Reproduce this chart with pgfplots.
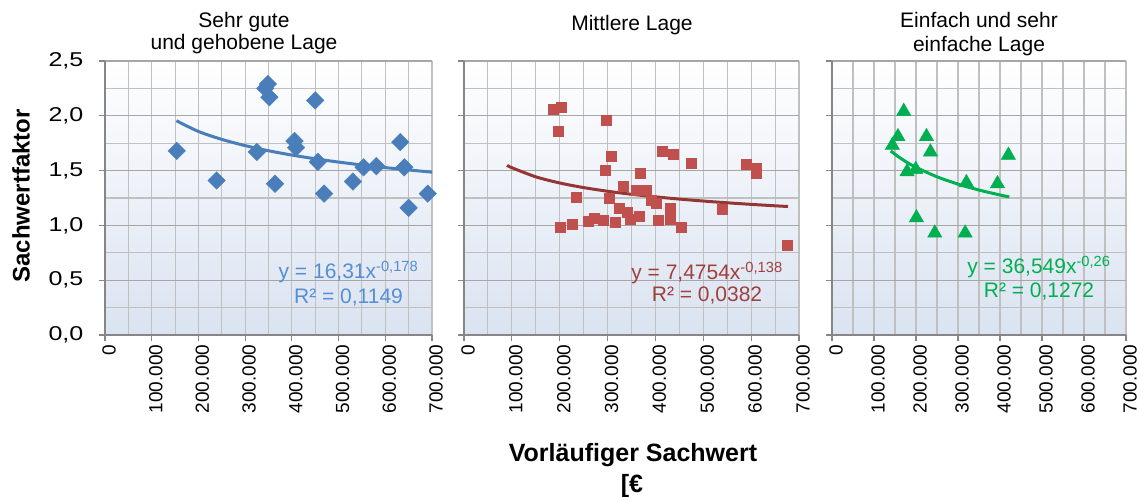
\documentclass[border=0pt]{standalone}
\usepackage{fontspec}
\setmainfont{Liberation Sans}
\usepackage{pgfplots}
\pgfplotsset{compat=1.18}
\definecolor{bluem}{HTML}{4A7EBB}
\definecolor{bluet}{HTML}{558ED5}
\definecolor{redm}{HTML}{C0504D}
\definecolor{redl}{HTML}{943634}
\definecolor{redt}{HTML}{A0403D}
\definecolor{greenm}{HTML}{00B050}
\definecolor{bgbot}{HTML}{DAE3F1}
\definecolor{gridc}{HTML}{C0C0C0}
\definecolor{gridmaj}{HTML}{A6A6A6}
\definecolor{axc}{HTML}{868686}
\newcommand\fs[1]{\fontsize{#1}{#1}\selectfont}

\pgfplotsset{
  panel/.style={
    scale only axis, height=274bp,
    xmin=0, xmax=700000, ymin=0, ymax=2.5,
    axis lines*=left, axis line style={axc, line width=1.3bp},
    tick align=outside, major tick length=6bp, minor tick length=0pt,
    tick style={axc, line width=1.2bp},
    xtick={0,100000,...,700000}, minor xtick={50000,150000,...,650000},
    ytick={0,0.5,...,2.5}, minor ytick={0.25,0.75,...,2.25},
    grid=both,
    major x grid style={gridc, line width=1.1bp},
    minor x grid style={gridc, line width=1.1bp},
    major y grid style={gridmaj, line width=1.1bp},
    minor y grid style={gridc, line width=1.1bp},
    axis background/.style={top color=white, bottom color=bgbot},
    xticklabels={0,100.000,200.000,300.000,400.000,500.000,600.000,700.000},
    xticklabel style={rotate=90, anchor=east, font=\fs{19bp}, yshift=-4bp},
    scaled x ticks=false, scaled y ticks=false,
    yticklabels={},
    clip=false,
  },
}

\begin{document}
\begin{tikzpicture}

% ---------- Panel 1 ----------
\begin{axis}[panel, at={(105bp,162bp)}, anchor=south west, width=327bp,
  yticklabels={{0,0},{0,5},{1,0},{1,5},{2,0},{2,5}},
  yticklabel style={font=\fs{20bp}, xscale=1.25, anchor=east, xshift=-9bp}]
\addplot[only marks, mark=square*, mark size=6.2bp, mark options={rotate=45, fill=bluem, draw=bluem}]
coordinates {
(153600,1.68) (239000,1.41) (325000,1.67) (348600,2.29) (343000,2.25) (352000,2.17)
(364000,1.38) (405700,1.77) (409000,1.71) (450000,2.14) (455700,1.58) (469000,1.29)
(530700,1.40) (553600,1.53) (580700,1.54) (632000,1.76) (640700,1.53) (650000,1.16)
(691000,1.29)
};
\addplot[bluem, line width=3bp, smooth] coordinates {
(153000,1.9548) (200000,1.8572) (250000,1.7849) (300000,1.7280) (350000,1.6812)
(400000,1.6417) (450000,1.6076) (500000,1.5777) (550000,1.5512) (600000,1.5274)
(650000,1.5058) (700000,1.4860)
};
\end{axis}

% ---------- Panel 2 ----------
\begin{axis}[panel, at={(464bp,162bp)}, anchor=south west, width=335bp]
\addplot[only marks, mark=square*, mark size=5bp, mark options={fill=redm, draw=redm}]
coordinates {
(186700,2.06) (204000,2.08) (197000,1.86) (298000,1.96) (308600,1.63) (294600,1.50)
(415000,1.68) (437000,1.65) (475700,1.57) (369000,1.48) (590600,1.56) (610000,1.52)
(611500,1.48) (333000,1.36) (235000,1.26) (303700,1.25) (360800,1.32) (381700,1.32)
(392000,1.23) (401000,1.20) (324600,1.16) (340000,1.12) (431800,1.16) (540500,1.15)
(200600,0.98) (227000,1.01) (259800,1.04) (271600,1.07) (291000,1.05) (315500,1.03)
(346900,1.06) (366000,1.08) (406000,1.05) (431800,1.06) (454800,0.98) (675600,0.82)
};
\addplot[redl, line width=3bp, smooth] coordinates {
(90000,1.5486) (100000,1.5263) (150000,1.4432) (200000,1.3871) (250000,1.3450)
(300000,1.3116) (350000,1.2840) (400000,1.2605) (450000,1.2402) (500000,1.2223)
(550000,1.2063) (600000,1.1919) (650000,1.1788) (677000,1.1723)
};
\end{axis}

% ---------- Panel 3 ----------
\begin{axis}[panel, at={(832bp,162bp)}, anchor=south west, width=294bp]
\addplot[only marks, mark=triangle*, mark size=8.3bp, mark options={fill=greenm, draw=greenm}]
coordinates {
(170800,2.04) (157000,1.81) (143800,1.73) (224900,1.81) (234400,1.67) (178800,1.49)
(199400,1.51) (320000,1.39) (394000,1.38) (420000,1.64) (201000,1.07) (244700,0.93)
(317000,0.93)
};
\addplot[greenm, line width=3bp, smooth] coordinates {
(140000,1.6784) (160000,1.6211) (180000,1.5722) (200000,1.5297) (250000,1.4435)
(300000,1.3767) (350000,1.3226) (400000,1.2775) (422000,1.2598)
};
\end{axis}

% ---------- Titles ----------
\node[anchor=base, font=\fs{21bp}, inner sep=0pt] at (244bp,469bp) {Sehr gute};
\node[anchor=base, font=\fs{21bp}, inner sep=0pt] at (244bp,447bp) {und gehobene Lage};
\node[anchor=base, font=\fs{21bp}, inner sep=0pt] at (632bp,466bp) {Mittlere Lage};
\node[anchor=base, font=\fs{21bp}, inner sep=0pt] at (979bp,469bp) {Einfach und sehr};
\node[anchor=base, font=\fs{21bp}, inner sep=0pt] at (979bp,445bp) {einfache Lage};

% ---------- Equations ----------
\node[anchor=base, font=\fs{21bp}, text=bluet, inner sep=0pt] at (348.5bp,218bp) {y = 16,31x\textsuperscript{-0,178}};
\node[anchor=base, font=\fs{21bp}, text=bluet, inner sep=0pt] at (348.5bp,193bp) {R² = 0,1149};
\node[anchor=base, font=\fs{21bp}, text=redt, inner sep=0pt] at (707bp,217bp) {y = 7,4754x\textsuperscript{-0,138}};
\node[anchor=base, font=\fs{21bp}, text=redt, inner sep=0pt] at (707bp,195.5bp) {R² = 0,0382};
\node[anchor=base, font=\fs{21bp}, text=greenm, inner sep=0pt] at (1039bp,223bp) {y = 36,549x\textsuperscript{-0,26}};
\node[anchor=base, font=\fs{21bp}, text=greenm, inner sep=0pt] at (1039bp,199.5bp) {R² = 0,1272};

% ---------- Axis titles ----------
\node[rotate=90, anchor=center, font=\bfseries\fs{24bp}, inner sep=0pt] at (21bp,301bp) {Sachwertfaktor};
\node[anchor=base, font=\bfseries\fs{25bp}, inner sep=0pt] at (633bp,36bp) {Vorläufiger Sachwert};
\node[anchor=base, font=\bfseries\fs{25bp}, inner sep=0pt] at (632bp,4.5bp) {[€};

\pgfresetboundingbox
\path[use as bounding box] (0bp,0bp) rectangle (1137bp,497bp);
\end{tikzpicture}
\end{document}
